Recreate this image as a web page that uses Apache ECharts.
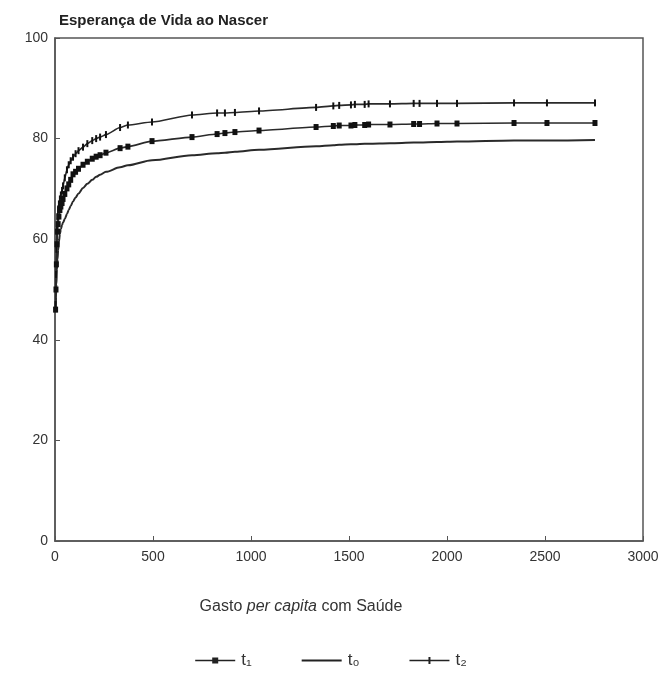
<!DOCTYPE html>
<html>
<head>
<meta charset="utf-8">
<script src="https://cdn.jsdelivr.net/npm/echarts@6/dist/echarts.min.js"></script>
<style>
html,body{margin:0;padding:0;background:#fff;}
#chart{width:662px;height:678px;}
</style>
</head>
<body>
<div id="chart"></div>
<script>
// Gasto per capita com Saúde (x)
var gasto = [3, 5, 7, 10, 13, 16, 20, 25, 30, 36, 41, 50, 61, 70, 80, 92, 105, 120, 143, 165, 190, 210, 230, 260, 332, 372, 495, 699, 827, 867, 918, 1041, 1332, 1420, 1450, 1510, 1530, 1580, 1600, 1709, 1830, 1860, 1949, 2051, 2342, 2510, 2755];
// Esperança de Vida ao Nascer
var t1 = [46, 50, 55, 59, 61.5, 63, 64.5, 65.8, 66.5, 67.2, 68, 69, 70.1, 70.9, 71.8, 72.9, 73.4, 74, 74.8, 75.4, 76, 76.4, 76.7, 77.2, 78.1, 78.4, 79.5, 80.3, 80.9, 81.1, 81.3, 81.6, 82.3, 82.5, 82.6, 82.6, 82.7, 82.7, 82.8, 82.8, 82.9, 82.9, 83, 83, 83.1, 83.1, 83.1];
var t0 = [45.5, 48.5, 51, 54, 56, 57.8, 59.5, 61, 62, 62.8, 63.3, 64, 65, 65.8, 66.6, 67.5, 68.3, 69.1, 70.2, 71, 71.8, 72.4, 72.8, 73.4, 74.3, 74.7, 75.7, 76.7, 77.1, 77.2, 77.4, 77.8, 78.5, 78.7, 78.8, 78.9, 78.9, 79, 79, 79.1, 79.2, 79.2, 79.3, 79.4, 79.6, 79.6, 79.7];
var t2 = [47, 53, 58, 62, 64.5, 66, 67, 68, 68.8, 69.7, 70.6, 72.2, 73.8, 74.8, 75.6, 76.3, 77, 77.6, 78.3, 79, 79.6, 80, 80.3, 80.8, 82.2, 82.7, 83.3, 84.7, 85.1, 85.1, 85.2, 85.5, 86.2, 86.5, 86.6, 86.7, 86.8, 86.8, 86.9, 86.9, 87, 87, 87, 87, 87.1, 87.1, 87.1];
var yTicks = [0, 20, 40, 60, 80, 100];
var xTicks = [0, 500, 1000, 1500, 2000, 2500, 3000];
var seriesNames = ['t₁', 't₀', 't₂'];

function pairs(xs, ys){ return xs.map(function(x,i){ return [x, ys[i]]; }); }

var lineColor = '#2a2a2a';
var iconT1 = 'path://M0,0L0.01,0Z M0,3.3L40,3.3L40,4.7L0,4.7Z M17,1L23,1L23,7L17,7Z M40,8L40.01,8Z';
var iconT0 = 'path://M0,0L0.01,0Z M0,3.1L40,3.1L40,4.9L0,4.9Z M40,8L40.01,8Z';
var iconT2 = 'path://M0,0L0.01,0Z M0,3.3L40,3.3L40,4.7L0,4.7Z M19,0.5L21,0.5L21,7.5L19,7.5Z M40,8L40.01,8Z';

var chart = echarts.init(document.getElementById('chart'), null, {renderer:'canvas'});
chart.setOption({
  backgroundColor: '#ffffff',
  animation: false,
  title: {
    text: 'Esperança de Vida ao Nascer',
    left: 54, top: 8,
    textStyle: {fontFamily: 'Liberation Sans Narrow, Liberation Sans, Arial', fontSize: 15, fontWeight: 'bold', color: '#222'}
  },
  grid: {left: 55, right: 19, top: 38, bottom: 137, show: true, borderColor: '#555', borderWidth: 1.5, backgroundColor: 'transparent'},
  xAxis: {
    type: 'value', min: xTicks[0], max: xTicks[xTicks.length-1], interval: 500,
    axisLine: {show: true, lineStyle: {color: '#555', width: 1.5}},
    axisTick: {show: true, inside: true, length: 5, lineStyle: {color: '#555'}},
    splitLine: {show: false},
    axisLabel: {margin: 9, fontFamily: 'Liberation Sans Narrow, Liberation Sans, Arial', fontSize: 14, color: '#333',
      formatter: function(v){ return String(v); }},
    name: '{a|Gasto }{b|per capita}{a| com Saúde}',
    nameLocation: 'middle', nameGap: 58,
    nameTextStyle: {padding: [0, 96, 0, 0], rich: {
      a: {fontFamily: 'Liberation Sans', fontSize: 16, color: '#333'},
      b: {fontFamily: 'Liberation Sans', fontSize: 16, fontStyle: 'italic', color: '#333'}
    }}
  },
  yAxis: {
    type: 'value', min: yTicks[0], max: yTicks[yTicks.length-1], interval: 20,
    axisLine: {show: true, lineStyle: {color: '#555', width: 1.5}},
    axisTick: {show: true, inside: true, length: 5, lineStyle: {color: '#555'}},
    splitLine: {show: false},
    axisLabel: {margin: 7, fontFamily: 'Liberation Sans Narrow, Liberation Sans, Arial', fontSize: 14, color: '#333'}
  },
  legend: {
    bottom: 4, left: 'center',
    itemWidth: 42, itemHeight: 8, itemGap: 50,
    data: [
      {name: seriesNames[0], icon: iconT1},
      {name: seriesNames[1], icon: iconT0},
      {name: seriesNames[2], icon: iconT2}
    ],
    itemStyle: {color: '#222'},
    textStyle: {fontFamily: 'Liberation Sans', fontSize: 17, color: '#333'}
  },
  series: [
    {
      name: seriesNames[0], type: 'line', data: pairs(gasto, t1),
      symbol: 'rect', symbolSize: [5, 6], showSymbol: true,
      smooth: 0.2, smoothMonotone: 'x',
      lineStyle: {color: lineColor, width: 1.6},
      itemStyle: {color: '#111'}
    },
    {
      name: seriesNames[1], type: 'line', data: pairs(gasto, t0),
      symbol: 'none', showSymbol: false,
      smooth: 0.3, smoothMonotone: 'x',
      lineStyle: {color: lineColor, width: 2},
      itemStyle: {color: lineColor}
    },
    {
      name: seriesNames[2], type: 'line', data: pairs(gasto, t2),
      symbol: 'rect', symbolSize: [2, 7], showSymbol: true,
      smooth: 0.2, smoothMonotone: 'x',
      lineStyle: {color: lineColor, width: 1.6},
      itemStyle: {color: '#111'}
    }
  ]
});
</script>
</body>
</html>
